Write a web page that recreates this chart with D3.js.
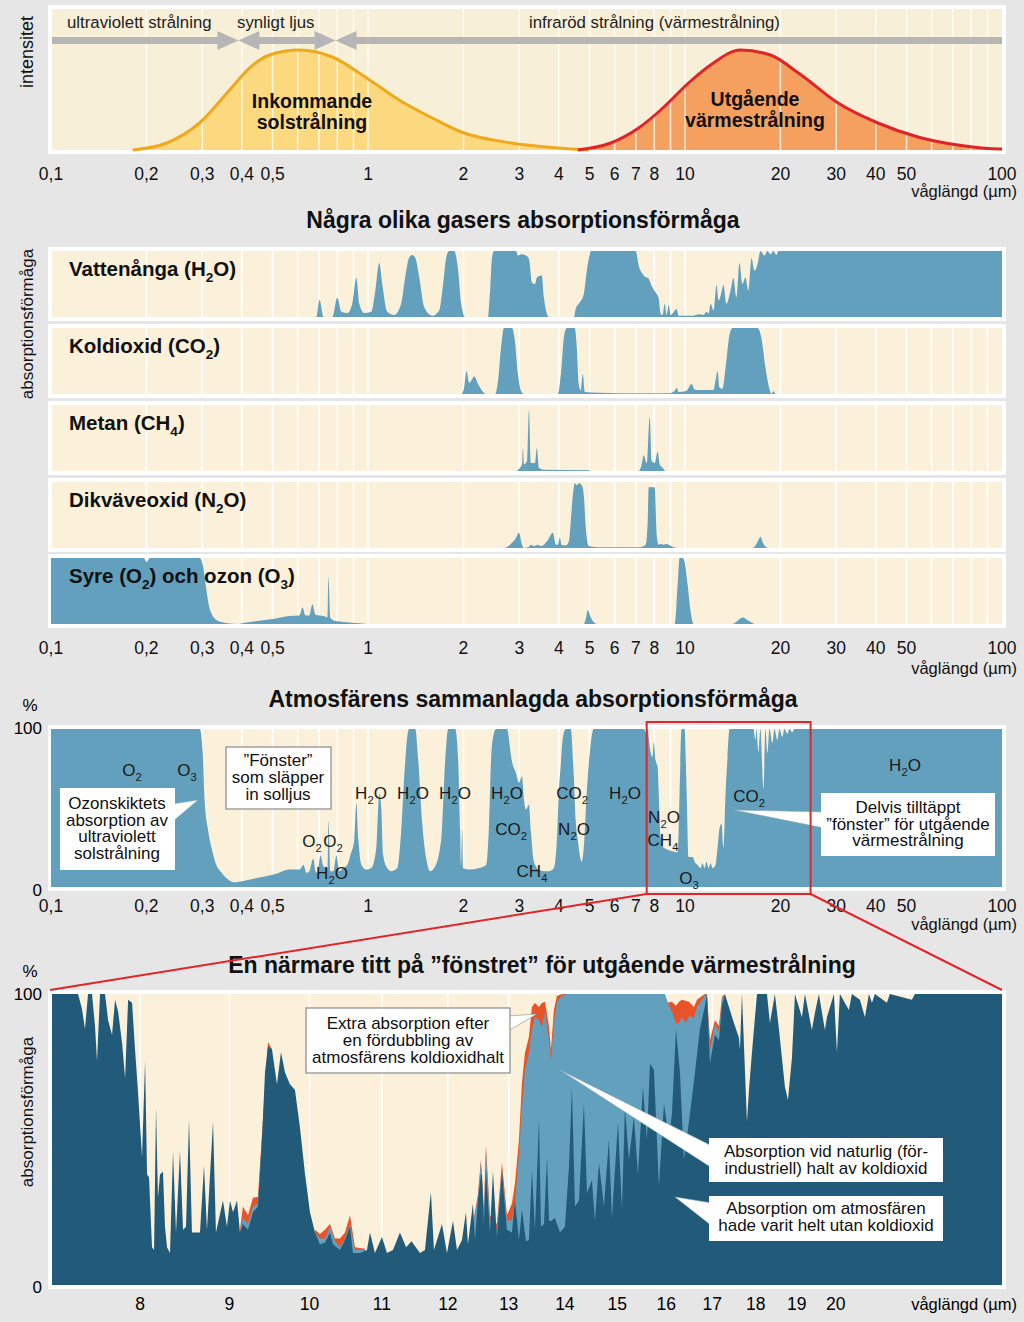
<!DOCTYPE html>
<html><head><meta charset="utf-8">
<script src="https://cdn.jsdelivr.net/npm/d3@7"></script>
<style>
body{margin:0;background:#e6e6e6}
svg{display:block}
text{font-family:"Liberation Sans",Arial,Helvetica,sans-serif}
</style>
</head><body>
<svg id="c" width="1024" height="1322"></svg>
<script>
// ---------------- DATA ----------------
const topTickLabels = [[0.1,"0,1"],[0.2,"0,2"],[0.3,"0,3"],[0.4,"0,4"],[0.5,"0,5"],[1,"1"],[2,"2"],[3,"3"],[4,"4"],[5,"5"],[6,"6"],[7,"7"],[8,"8"],[10,"10"],[20,"20"],[30,"30"],[40,"40"],[50,"50"],[100,"100"]];
const topGrid = [0.2,0.3,0.4,0.5,0.6,0.7,0.8,0.9,1,2,3,4,5,6,7,8,9,10,20,30,40,50,60,70,80,90];
const zoomTicks = [8,9,10,11,12,13,14,15,16,17,18,19,20];
const zoomGrid = [8,9,10,11,12,13,14,15,16,17,18,19,20,21,22,23,24];
const bandBounds = [0.39, 0.79]; // UV|visible|IR limits (µm)

// intensity curves [µm, relative intensity]
const sunCurve = [[0.181,0],[0.232,7],[0.294,27],[0.366,60],[0.423,82],[0.489,95],[0.608,100],[0.772,93],[0.99,72],[1.254,50],[1.594,32],[1.97,18],[2.83,7],[4.0,2],[4.97,0]];
const earthCurve = [[4.59,0],[5.83,7],[7.14,22],[8.38,40],[10.26,67],[12.04,85],[14.96,100],[18.6,95],[22.8,77],[30.4,47],[40.6,27],[54.3,13],[72.6,5],[98.5,1],[100,1]];

// gas absorption [µm, %]
const h2oAbs = [[0.1,0],[0.687,0],[0.703,26],[0.724,0],[0.772,0],[0.800,29],[0.824,8],[0.861,6],[0.892,20],[0.919,59],[0.939,20],[0.973,6],[1.024,8],[1.055,40],[1.085,82],[1.109,50],[1.150,8],[1.210,3],[1.272,20],[1.310,60],[1.349,90],[1.379,94],[1.409,90],[1.451,60],[1.504,15],[1.594,2],[1.677,10],[1.726,50],[1.765,90],[1.803,100],[1.870,100],[1.925,70],[1.967,20],[2.026,0],[2.392,0],[2.427,40],[2.462,90],[2.499,100],[2.929,100],[2.972,93],[3.038,95],[3.150,93],[3.219,88],[3.290,52],[3.361,50],[3.410,60],[3.537,63],[3.588,30],[3.721,0],[4.459,0],[4.524,13],[4.623,20],[4.794,35],[4.899,70],[5.007,95],[5.044,100],[6.990,100],[7.144,78],[7.409,63],[7.682,58],[7.851,47],[8.082,37],[8.260,28],[8.380,5],[8.503,3],[8.627,20],[8.753,3],[8.882,18],[9.012,3],[9.412,12],[9.546,2],[10.64,2],[11.04,4],[11.44,3],[11.69,8],[11.87,5],[12.04,20],[12.30,10],[12.57,48],[12.76,25],[12.95,32],[13.23,48],[13.52,20],[13.92,40],[14.22,59],[14.53,30],[14.86,82],[15.18,50],[15.51,60],[15.86,40],[16.21,89],[16.56,70],[16.93,80],[17.30,100],[17.81,93],[18.20,100],[18.60,95],[19.01,100],[19.43,94],[19.71,100],[100,100]];
const co2Abs = [[0.1,0],[1.967,0],[2.011,10],[2.046,35],[2.085,17],[2.129,22],[2.161,27],[2.225,15],[2.290,5],[2.358,0],[2.517,0],[2.572,20],[2.628,70],[2.685,100],[2.846,100],[2.908,80],[2.972,30],[3.038,5],[3.105,0],[3.971,0],[4.059,30],[4.148,85],[4.240,100],[4.491,100],[4.557,70],[4.623,15],[4.690,5],[4.759,30],[4.829,3],[5.345,2],[7.144,1],[8.882,1],[9.28,5],[9.412,9],[9.546,3],[10.12,5],[10.34,12],[10.49,15],[10.72,7],[11.04,6],[12.30,6],[12.48,20],[12.67,35],[12.85,10],[13.14,8],[13.43,40],[13.82,90],[14.12,100],[16.93,100],[17.42,85],[17.94,40],[18.46,8],[18.73,0],[19.01,4],[19.29,0],[100,0]];
const ch4Abs = [[0.1,0],[2.929,0],[3.016,5],[3.060,10],[3.082,35],[3.105,10],[3.173,15],[3.219,92],[3.266,12],[3.361,12],[3.410,35],[3.461,5],[3.588,2],[4.971,1],[5.044,0],[7.144,0],[7.300,10],[7.409,24],[7.571,12],[7.738,82],[7.851,15],[8.023,12],[8.199,29],[8.320,10],[8.503,5],[8.690,0],[100,0]];
const n2oAbs = [[0.1,0],[2.685,0],[2.806,5],[2.929,15],[2.994,23],[3.060,5],[3.105,0],[3.219,2],[3.266,5],[3.337,3],[3.435,5],[3.511,3],[3.588,5],[3.694,12],[3.830,23],[3.914,5],[3.971,5],[4.029,15],[4.088,4],[4.209,4],[4.300,10],[4.394,60],[4.491,98],[4.557,95],[4.623,98],[4.724,95],[4.794,80],[4.864,30],[4.971,3],[5.345,1],[7.144,1],[7.517,5],[7.627,40],[7.682,92],[8.023,92],[8.140,20],[8.260,5],[8.380,6],[8.565,5],[8.753,6],[8.947,4],[9.210,1],[9.48,0],[16.33,0],[16.80,6],[17.05,12],[17.30,17],[17.55,10],[17.81,4],[18.33,0],[100,0]];
const o2o3Abs = [[0.1,100],[0.196,100],[0.2005,94],[0.205,100],[0.2944,100],[0.3009,90],[0.3075,60],[0.3142,30],[0.3212,15],[0.3307,7],[0.3453,3],[0.3605,1],[0.388,0],[0.408,2],[0.4549,5],[0.507,8],[0.5653,12],[0.608,13],[0.6213,25],[0.6349,13],[0.653,13],[0.6677,30],[0.6826,14],[0.7239,12],[0.7453,10],[0.750,72],[0.7605,10],[0.783,5],[0.842,3],[0.939,1],[1.009,0],[4.794,0],[4.864,8],[4.935,21],[5.044,10],[5.267,0],[9.277,0],[9.480,60],[9.616,100],[9.827,100],[9.971,94],[10.19,60],[10.41,20],[10.64,0],[14.12,0],[14.75,6],[15.18,10],[15.86,5],[16.68,0],[100,0]];

// total atmospheric absorption [µm, %]
const totalAbs = [[0.1,100],[0.2944,100],[0.3009,85],[0.3052,55],[0.3119,38],[0.3166,30],[0.3235,22],[0.3283,17],[0.3453,9],[0.3605,5],[0.3775,3],[0.408,4],[0.4549,6],[0.507,8],[0.5653,11],[0.608,11],[0.626,14],[0.6395,9],[0.653,10],[0.6725,18],[0.6826,10],[0.6926,9],[0.7082,20],[0.724,13],[0.7453,12],[0.7505,42],[0.7605,10],[0.7773,10],[0.7944,20],[0.812,10],[0.836,12],[0.8605,14],[0.8794,20],[0.9052,30],[0.919,53],[0.9323,30],[0.953,14],[0.9875,11],[1.024,12],[1.0625,25],[1.077,50],[1.085,59],[1.101,50],[1.117,20],[1.150,12],[1.184,10],[1.236,12],[1.272,35],[1.301,70],[1.330,95],[1.349,100],[1.410,100],[1.441,80],[1.483,40],[1.526,18],[1.571,10],[1.618,12],[1.702,30],[1.752,80],[1.790,100],[1.884,100],[1.925,80],[1.953,35],[1.967,14],[1.982,37],[1.996,12],[2.085,11],[2.241,12],[2.358,14],[2.409,40],[2.444,80],[2.481,95],[2.535,100],[2.745,100],[2.806,88],[2.826,83],[2.929,72],[2.994,66],[3.060,70],[3.105,55],[3.150,49],[3.219,52],[3.266,35],[3.337,16],[3.461,11],[3.588,10],[3.721,10],[3.858,12],[3.943,30],[4.000,60],[4.059,78],[4.119,95],[4.209,100],[4.362,100],[4.459,70],[4.524,41],[4.589,30],[4.657,20],[4.724,16],[4.794,25],[4.899,60],[5.007,85],[5.154,100],[7.300,100],[7.409,100],[7.517,98],[7.627,100],[7.682,95],[7.794,85],[7.907,82],[7.966,92],[8.082,80],[8.199,76],[8.260,60],[8.380,32],[8.565,25],[9.012,23],[9.480,22],[9.616,60],[9.756,100],[9.971,100],[10.12,60],[10.26,19],[10.56,19],[10.80,15],[10.96,14],[11.20,12],[11.36,15],[11.52,12],[11.69,16],[11.87,12],[12.04,15],[12.21,12],[12.48,14],[12.67,25],[12.85,37],[13.04,40],[13.23,25],[13.43,60],[13.62,82],[13.82,100],[16.44,100],[16.68,93],[16.80,100],[17.05,85],[17.30,100],[17.68,62],[17.94,100],[18.20,85],[18.46,100],[18.87,91],[19.15,100],[19.57,93],[19.86,100],[20.29,95],[20.59,100],[21.04,97],[21.35,100],[21.81,98],[22.13,100],[100,100]];

// close-up of the 7–25 µm window [µm, %]
const noCO2Abs = [[7.105,100],[7.372,100],[7.410,95],[7.44,88],[7.47,100],[7.509,100],[7.539,89],[7.559,77],[7.589,100],[7.639,100],[7.670,91],[7.710,86],[7.741,98],[7.772,94],[7.813,83],[7.844,71],[7.875,98],[7.916,97],[7.947,81],[7.979,66],[8.021,44],[8.053,77],[8.074,38],[8.095,37],[8.127,13],[8.149,12],[8.170,61],[8.191,30],[8.213,38],[8.245,39],[8.267,20],[8.289,13],[8.322,11],[8.355,46],[8.388,18],[8.432,46],[8.466,19],[8.499,20],[8.533,57],[8.566,18],[8.657,18],[8.703,41],[8.737,19],[8.807,56],[8.841,18],[8.923,29],[8.970,20],[9.006,29],[9.042,25],[9.090,29],[9.125,18],[9.161,21],[9.222,19],[9.283,25],[9.344,27],[9.394,50],[9.431,73],[9.468,82],[9.518,81],[9.581,69],[9.632,80],[9.683,73],[9.746,69],[9.811,67],[9.876,54],[9.942,38],[10.007,25],[10.073,18],[10.139,14],[10.206,14.5],[10.274,18],[10.315,14],[10.410,12],[10.479,15.5],[10.548,20],[10.590,11],[10.688,11],[10.787,12],[10.830,18],[10.901,11],[11.002,16.5],[11.075,11],[11.163,12],[11.266,18],[11.358,13],[11.439,15],[11.567,11],[11.643,12],[11.735,32],[11.782,12],[11.907,21],[11.986,11],[12.081,22],[12.145,12],[12.225,15.5],[12.289,25],[12.322,14],[12.403,28],[12.436,15.5],[12.485,29],[12.534,38],[12.551,38],[12.584,21],[12.617,40],[12.684,18],[12.734,39],[12.801,16.5],[12.886,39],[12.971,19],[13.057,18],[13.109,29],[13.178,15.5],[13.230,26],[13.300,15],[13.352,15.5],[13.405,39.5],[13.459,19],[13.530,57],[13.566,20],[13.620,21],[13.674,44],[13.710,22],[13.745,22],[13.818,23],[13.909,18],[14.001,20],[14.075,40.5],[14.131,68],[14.187,27],[14.262,29],[14.356,62.5],[14.413,31.6],[14.508,36],[14.566,22],[14.643,42],[14.739,27],[14.836,50],[14.895,23],[15.014,56],[15.093,26],[15.153,61],[15.233,43],[15.333,58],[15.414,38],[15.516,68],[15.598,50],[15.660,76],[15.742,74],[15.847,34],[15.952,62.5],[16.057,50],[16.121,59],[16.206,88],[16.291,73],[16.377,43],[16.485,56],[16.617,73],[16.726,88],[16.837,96],[16.881,100],[16.948,76],[16.992,80],[17.060,86],[17.150,84],[17.217,96],[17.285,100],[17.492,90],[17.608,85],[17.631,80.8],[17.678,100],[17.795,56],[17.842,67],[17.913,80],[18.030,100],[18.270,100],[18.341,90],[18.462,100],[18.560,88],[18.708,68],[18.782,63.6],[18.881,78],[18.956,100],[19.131,92],[19.207,100],[19.384,87.6],[19.461,93.5],[19.563,100],[19.719,87.6],[19.771,92],[19.955,100],[20.034,80],[20.113,100],[20.352,94.5],[20.433,100],[20.650,98],[20.786,92],[20.896,100],[20.979,97],[21.062,100],[21.397,97],[21.482,100],[22.113,98],[22.2,100],[24.9,100]];
const natCO2Abs = [[9.125,18],[9.161,23],[9.222,21],[9.283,27],[9.344,28],[9.394,51],null,[10.073,18],[10.139,16],[10.206,16],[10.274,20],[10.342,15],[10.410,13],[10.479,16],[10.548,21],[10.618,12],[10.759,12],null,[12.354,15],[12.485,30],[12.534,42],[12.584,24],[12.617,46],[12.684,22],[12.801,19],[12.886,40],[12.971,22],[13.057,22.3],[13.109,28],[13.178,45],[13.230,61],[13.282,74],[13.352,79.7],[13.405,87.6],[13.459,92.1],[13.530,91],[13.584,88.7],[13.638,93.8],[13.710,84.2],[13.745,77.3],[13.799,90],[13.853,97.3],[13.945,99.6],[14.038,100],[15.973,100],[16.057,96],[16.121,94],[16.206,90],[16.270,90],[16.334,92],[16.42,90],[16.485,92.5],[16.595,91.8],[16.661,95.5],[16.771,97.9],[16.837,99.6],[16.881,100],[16.948,80.8],[16.992,84],[17.060,89.5],[17.150,87],[17.217,98],[17.285,100]];
const dblCO2Abs = [[9.125,19],[9.161,27],[9.222,24],[9.283,30],[9.344,30.2],[9.394,52],[9.468,83.5],[9.518,81],null,[10.073,19],[10.139,17.5],[10.206,19],[10.274,21],[10.342,16],[10.410,16],[10.479,18],[10.548,24],[10.618,13],[10.759,12.5],null,[12.354,15.5],[12.485,31],[12.534,43],[12.584,26],[12.617,48],[12.684,24],[12.801,21],[12.886,42],[12.971,24],[13.057,28],[13.109,35],[13.178,49.8],[13.230,69.4],[13.282,79.7],[13.352,85.2],[13.405,95.5],[13.459,96.9],[13.530,95.5],[13.584,96.9],[13.638,97.3],[13.710,88.7],[13.745,80.8],[13.799,94.5],[13.853,99.3],[13.945,100],[15.952,100],[16.01,96.9],[16.121,97.3],[16.206,96],[16.270,97.3],[16.334,98],[16.485,97.3],[16.595,95.5],[16.661,98],[16.771,99.3],[16.837,100],[16.881,100],[16.948,84.2],[17.060,91],[17.150,89],[17.217,99],[17.285,100]];

// ---------------- STYLE ----------------
const COL = {bg:"#e6e6e6", cream:"#fbf0d9", creamTop:"#f7efd8", grid:"#ffffff", blue:"#62a0bd", navy:"#225a7a",
  red:"#e8532a", sunFill:"#fcd97f", sunLine:"#f0a81d", earthFill:"#f5a05e", earthLine:"#df2528", arrow:"#b6b6b6", text:"#111"};
const FS = {tick:17.5, unit:16.5, title:23, gas:20.5, big:19.5, note:17, band:16.8, axis:17};

const svg = d3.select("#c");
svg.append("rect").attr("width",1024).attr("height",1322).attr("fill",COL.bg);
const plot = svg.append("g");      // marks
const over = svg.append("g");      // callout boxes
const g = svg.append("g");         // text (on top)

const xTop = d3.scaleLog().domain([0.1,100]).range([51,1002]);
const xZoom = d3.scaleLog().domain([7.105,24.9]).range([50,1002]);

function frame(y0,y1,fill){
  plot.append("rect").attr("x",48).attr("y",y0-4).attr("width",958).attr("height",y1-y0+8).attr("fill","#fff");
  plot.append("rect").attr("x",52).attr("y",y0).attr("width",950).attr("height",y1-y0).attr("fill",fill||COL.cream);
}
function grid(x,vals,y0,y1,op){
  plot.append("g").selectAll("line").data(vals).join("line")
    .attr("x1",d=>x(d)).attr("x2",d=>x(d)).attr("y1",y0).attr("y2",y1)
    .attr("stroke",COL.grid).attr("stroke-width",1.6).attr("opacity",op==null?1:op);
}
function rich(gg,str,x,y,size,o){
  o=o||{};
  const t=gg.append("text").attr("x",x).attr("y",y).attr("font-size",size)
    .attr("text-anchor",o.anchor||"start").attr("font-weight",o.bold?"bold":"normal").attr("fill",o.fill||COL.text);
  let sub=false;
  str.split(/(_\d)/).forEach(p=>{
    if(!p) return;
    if(p[0]==="_"){ t.append("tspan").attr("font-size",size*0.66).attr("dy",size*0.3).text(p.slice(1)); sub=true; }
    else { t.append("tspan").attr("dy",sub?-size*0.3:0).text(p); sub=false; }
  });
  return t;
}
function lines(arr,x,y,lh,size,o){ arr.forEach((s,i)=>rich(g,s,x,y+i*lh,size,o)); }
function tickRow(labels,y,yUnit){
  g.append("g").selectAll("text").data(labels).join("text")
    .attr("x",d=>xTop(d[0])).attr("y",y).attr("text-anchor","middle").attr("font-size",FS.tick).attr("fill",COL.text).text(d=>d[1]);
  g.append("text").attr("x",1017).attr("y",yUnit).attr("text-anchor","end").attr("font-size",FS.unit).attr("fill",COL.text).text("våglängd (µm)");
}
function vlabel(txt,x,yc,size){
  g.append("text").attr("transform",`translate(${x},${yc}) rotate(-90)`).attr("text-anchor","middle")
    .attr("font-size",size).attr("fill",COL.text).text(txt);
}

// ---------------- TOP: intensity ----------------
frame(9,150,COL.creamTop);
const yI = d3.scaleLinear().domain([0,100]).range([150,50]);
const areaI = d3.area().x(d=>xTop(d[0])).y0(150).y1(d=>yI(d[1])).curve(d3.curveMonotoneX);
const lineI = d3.line().x(d=>xTop(d[0])).y(d=>yI(d[1])).curve(d3.curveMonotoneX);
plot.append("path").attr("d",areaI(sunCurve)).attr("fill",COL.sunFill);
plot.append("path").attr("d",areaI(earthCurve)).attr("fill",COL.earthFill);
grid(xTop,topGrid,9,150,0.75);
plot.append("path").attr("d",lineI(sunCurve)).attr("fill","none").attr("stroke",COL.sunLine).attr("stroke-width",3);
plot.append("path").attr("d",lineI(earthCurve)).attr("fill","none").attr("stroke",COL.earthLine).attr("stroke-width",3);

(function(){
  const a=xTop(bandBounds[0]), b=xTop(bandBounds[1]), yc=40.5, hl=21, hw=9.5;
  const ag=plot.append("g").attr("fill",COL.arrow);
  ag.append("rect").attr("x",52).attr("y",yc-3.5).attr("width",a-hl-52+2).attr("height",7);
  ag.append("rect").attr("x",a+hl-2).attr("y",yc-3.5).attr("width",(b-hl)-(a+hl)+4).attr("height",7);
  ag.append("rect").attr("x",b+hl-2).attr("y",yc-3.5).attr("width",1002-(b+hl)+2).attr("height",7);
  [[a,-1],[a,1],[b,-1],[b,1]].forEach(([x,s])=>{
    ag.append("path").attr("d",`M${x},${yc} L${x+s*hl},${yc-hw} L${x+s*hl},${yc+hw} Z`);
  });
})();
rich(g,"ultraviolett strålning",67,28,FS.band,{fill:"#222"});
rich(g,"synligt ljus",237,28,FS.band,{fill:"#222"});
rich(g,"infraröd strålning (värmestrålning)",529,28,FS.band,{fill:"#222"});
lines(["Inkommande","solstrålning"],312,108,21,FS.big,{anchor:"middle",bold:true});
lines(["Utgående","värmestrålning"],755,106,21,FS.big,{anchor:"middle",bold:true});
vlabel("intensitet",33,52,18);
tickRow(topTickLabels,180,197);

// ---------------- GAS PANELS ----------------
rich(g,"Några olika gasers absorptionsförmåga",523,228,FS.title,{anchor:"middle",bold:true});
const gasPanels = [
  {label:"Vattenånga (H_2O)", data:h2oAbs, top:251},
  {label:"Koldioxid (CO_2)", data:co2Abs, top:328},
  {label:"Metan (CH_4)", data:ch4Abs, top:405},
  {label:"Dikväveoxid (N_2O)", data:n2oAbs, top:482},
  {label:"Syre (O_2) och ozon (O_3)", data:o2o3Abs, top:558}
];
const PH = 66;
gasPanels.forEach(p=>{
  frame(p.top,p.top+PH);
  grid(xTop,topGrid,p.top,p.top+PH);
  const y = d3.scaleLinear().domain([0,100]).range([p.top+PH,p.top]);
  const ar = d3.area().x(d=>xTop(d[0])).y0(p.top+PH).y1(d=>y(d[1])).curve(d3.curveMonotoneX);
  plot.append("path").attr("d",ar(p.data)).attr("fill",COL.blue);
  rich(g,p.label,69,p.top+25,FS.gas,{bold:true});
});
vlabel("absorptionsförmåga",33,324,FS.axis);
tickRow(topTickLabels,654,674);

// ---------------- TOTAL ----------------
rich(g,"Atmosfärens sammanlagda absorptionsförmåga",533,707,FS.title,{anchor:"middle",bold:true});
frame(729,887);
grid(xTop,topGrid,729,887);
const yT = d3.scaleLinear().domain([0,100]).range([887,729]);
plot.append("path").attr("d",d3.area().x(d=>xTop(d[0])).y0(887).y1(d=>yT(d[1])).curve(d3.curveMonotoneX)(totalAbs)).attr("fill",COL.blue);
g.append("text").attr("x",30).attr("y",711).attr("font-size",FS.axis).attr("text-anchor","middle").text("%");
g.append("text").attr("x",42).attr("y",734).attr("font-size",FS.axis).attr("text-anchor","end").text("100");
g.append("text").attr("x",42).attr("y",896).attr("font-size",FS.axis).attr("text-anchor","end").text("0");
tickRow(topTickLabels,912,930);

const F=FS.note, TC="#1a1a1a";
[["O_2",132,776],["O_3",187,776],["H_2O",371,799],["H_2O",413,799],["H_2O",455,799],["H_2O",507,799],["CO_2",572,799],["H_2O",625,799],
 ["CO_2",511,835],["N_2O",574,835],["CH_4",532,877],["O_2",312,847],["O_2",333,847],["H_2O",332,879],
 ["N_2O",664,823],["CH_4",663,846],["O_3",689,884],["CO_2",749,802],["H_2O",905,771]]
 .forEach(d=>rich(g,d[0],d[1],d[2],F,{anchor:"middle",fill:TC}));

function callout(box,tri,border){
  if(tri) over.append("path").attr("d",`M${tri[0][0]},${tri[0][1]} L${tri[1][0]},${tri[1][1]} L${tri[2][0]},${tri[2][1]} Z`)
    .attr("fill","#fff").attr("stroke",border?"#8a8a8a":"#8fa9b8").attr("stroke-width",0.6);
  over.append("rect").attr("x",box[0]).attr("y",box[1]).attr("width",box[2]).attr("height",box[3])
    .attr("fill","#fff").attr("stroke",border?"#8a8a8a":"none").attr("stroke-width",1.2);
}
callout([60,788,115,82],[[172,804],[198,800],[172,822]],false);
lines(["Ozonskiktets","absorption av","ultraviolett","solstrålning"],117,809,16.7,F,{anchor:"middle"});
callout([226,747,105,62],null,true);
lines(["”Fönster”","som släpper","in solljus"],278,766,17,F,{anchor:"middle"});
callout([821,793,174,63],[[734,810],[824,812],[824,828]],false);
lines(["Delvis tilltäppt","”fönster” för utgående","värmestrålning"],908,813,16.5,F,{anchor:"middle"});

// ---------------- ZOOM ----------------
rich(g,"En närmare titt på ”fönstret” för utgående värmestrålning",542,973,FS.title,{anchor:"middle",bold:true});
frame(994,1285);
grid(xZoom,zoomGrid,994,1285);
const yZ = d3.scaleLinear().domain([0,100]).range([1285,994]);
const arZ = d3.area().defined(d=>d!==null).x(d=>xZoom(d[0])).y0(1285).y1(d=>yZ(d[1]));
svg.append("clipPath").attr("id","zc").append("rect").attr("x",52).attr("y",994).attr("width",950).attr("height",291);
plot.append("path").attr("d",arZ(dblCO2Abs)).attr("fill",COL.red).attr("clip-path","url(#zc)");
plot.append("path").attr("d",arZ(natCO2Abs)).attr("fill",COL.blue).attr("clip-path","url(#zc)");
plot.append("path").attr("d",arZ(noCO2Abs)).attr("fill",COL.navy).attr("clip-path","url(#zc)");
g.append("g").selectAll("text").data(zoomTicks).join("text")
  .attr("x",d=>xZoom(d)).attr("y",1310).attr("text-anchor","middle").attr("font-size",FS.tick).text(d=>d);
g.append("text").attr("x",1017).attr("y",1310).attr("text-anchor","end").attr("font-size",FS.unit).text("våglängd (µm)");
g.append("text").attr("x",30).attr("y",977).attr("font-size",FS.axis).attr("text-anchor","middle").text("%");
g.append("text").attr("x",42).attr("y",1000).attr("font-size",FS.axis).attr("text-anchor","end").text("100");
g.append("text").attr("x",42).attr("y",1293).attr("font-size",FS.axis).attr("text-anchor","end").text("0");
vlabel("absorptionsförmåga",33,1112,FS.axis);

callout([306,1008,204,65],[[508,1016],[537,1014],[508,1031]],true);
lines(["Extra absorption efter","en fördubbling av","atmosfärens koldioxidhalt"],408,1029,17,F,{anchor:"middle"});
callout([709,1138,234,44],[[560,1070],[712,1146],[712,1168]],false);
lines(["Absorption vid naturlig (för-","industriell) halt av koldioxid"],826,1157,16.5,F,{anchor:"middle"});
callout([709,1196,234,45],[[675,1197],[712,1203],[712,1226]],false);
lines(["Absorption om atmosfären","hade varit helt utan koldioxid"],826,1214,16.5,F,{anchor:"middle"});

// red zoom box + connectors
const bx0=xTop(7.57), bx1=xTop(24.9);
svg.append("rect").attr("x",bx0).attr("y",722).attr("width",bx1-bx0).attr("height",172).attr("fill","none").attr("stroke","#e0262a").attr("stroke-width",2);
svg.append("line").attr("x1",bx0).attr("y1",894).attr("x2",50).attr("y2",990).attr("stroke","#e0262a").attr("stroke-width",2);
svg.append("line").attr("x1",bx1).attr("y1",894).attr("x2",1002).attr("y2",990).attr("stroke","#e0262a").attr("stroke-width",2);
</script>
</body></html>
